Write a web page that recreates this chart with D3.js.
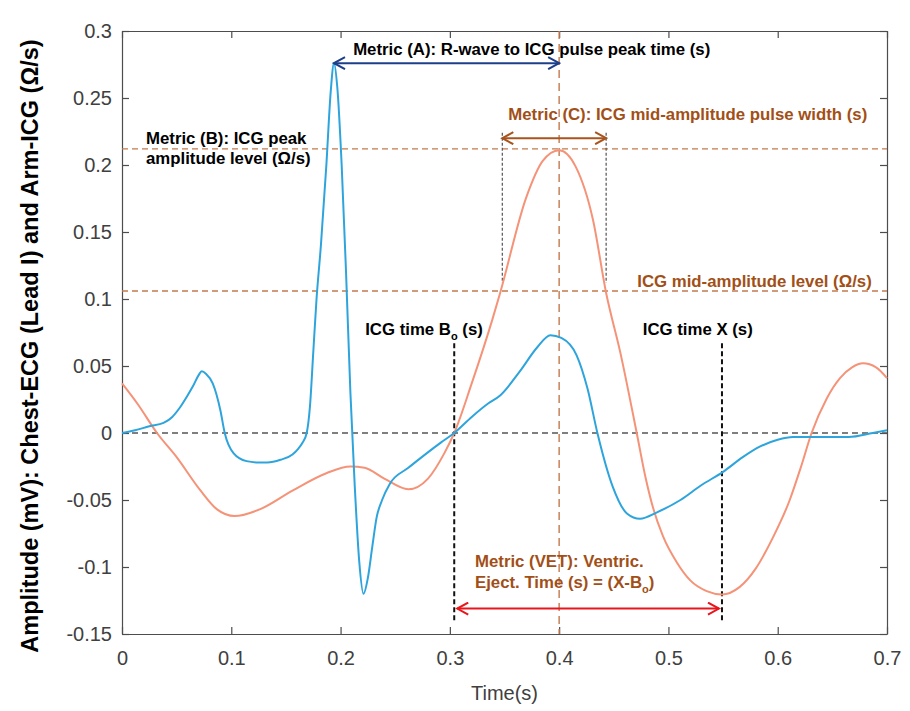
<!DOCTYPE html>
<html>
<head>
<meta charset="utf-8">
<script src="https://cdn.jsdelivr.net/npm/d3@7"></script>
<style>
  body { margin: 0; background: #fff; }
  svg text { font-family: "Liberation Sans", Arial, sans-serif; }
</style>
</head>
<body>
<svg id="chart"></svg>
<script>
// ECG (blue) samples: time (s) and amplitude (mV)
var ecgT = [0, 0.012, 0.025, 0.038, 0.046, 0.053, 0.060, 0.065, 0.070, 0.073, 0.077, 0.083, 0.090, 0.094, 0.102, 0.114, 0.125, 0.133, 0.145, 0.156, 0.161, 0.165, 0.169,
  0.172, 0.175, 0.178, 0.182, 0.187, 0.191, 0.194, 0.197, 0.201, 0.205, 0.209, 0.213, 0.217, 0.221, 0.225, 0.229, 0.233, 0.238, 0.245,
  0.262, 0.279, 0.292, 0.304, 0.320, 0.335, 0.346, 0.364, 0.380, 0.392, 0.402, 0.416, 0.426, 0.435, 0.449, 0.462, 0.474, 0.490, 0.511,
  0.530, 0.550, 0.568, 0.584, 0.600, 0.614, 0.640, 0.665, 0.687, 0.700];
var ecgV = [0, 0.002, 0.005, 0.0075, 0.012, 0.019, 0.028, 0.035, 0.043, 0.046, 0.044, 0.037, 0.017, 0.0, -0.015, -0.021, -0.022, -0.022, -0.020, -0.016, -0.012, -0.0075, 0.0,
  0.02, 0.06, 0.10, 0.14, 0.20, 0.255, 0.276, 0.258, 0.20, 0.12, 0.03, -0.04, -0.095, -0.12, -0.108, -0.085, -0.063, -0.050, -0.038,
  -0.026, -0.015, -0.007, 0.0, 0.012, 0.022, 0.028, 0.046, 0.064, 0.073, 0.071, 0.058, 0.033, 0.0, -0.040, -0.060, -0.064, -0.059, -0.050,
  -0.039, -0.029, -0.018, -0.010, -0.005, -0.003, -0.003, -0.003, 0.0, 0.002];

// ICG (orange) samples: time (s) and amplitude (ohm/s)
var icgT = [0, 0.014, 0.032, 0.050, 0.071, 0.087, 0.103, 0.126, 0.156, 0.187, 0.209, 0.222, 0.240, 0.262, 0.280, 0.295, 0.304, 0.320, 0.339, 0.346,
  0.370, 0.385, 0.400, 0.415, 0.431, 0.443, 0.456, 0.471, 0.479, 0.486, 0.495, 0.508, 0.520, 0.535, 0.549, 0.565, 0.580, 0.595, 0.611,
  0.621, 0.631, 0.645, 0.657, 0.668, 0.678, 0.690, 0.700];
var icgV = [0.037, 0.022, 0.0, -0.018, -0.042, -0.057, -0.062, -0.057, -0.043, -0.030, -0.025, -0.026, -0.034, -0.042, -0.034, -0.015, 0.0, 0.037, 0.085, 0.1045,
  0.176, 0.203, 0.211, 0.199, 0.159, 0.1045, 0.060, 0.0, -0.033, -0.056, -0.077, -0.097, -0.110, -0.118, -0.1205, -0.115, -0.101, -0.079, -0.050,
  -0.026, 0.0, 0.026, 0.041, 0.049, 0.052, 0.049, 0.041];

// tick values
var xTicks = [0, 0.1, 0.2, 0.3, 0.4, 0.5, 0.6, 0.7];
var yTicks = [-0.15, -0.1, -0.05, 0, 0.05, 0.1, 0.15, 0.2, 0.25, 0.3];

// annotation values
var tBo = 0.304, tX = 0.549, tEcgPeak = 0.194, tIcgPeak = 0.400;
var icgPeak = 0.212, icgMid = 0.106, tMidL = 0.348, tMidR = 0.443;

var W = 910, H = 711;
var margin = { top: 31, right: 23, bottom: 77, left: 122 };
var width = W - margin.left - margin.right;
var height = H - margin.top - margin.bottom;

var svg = d3.select("#chart").attr("width", W).attr("height", H);

// open chevron arrow heads
var defs = svg.append("defs");
function chevron(id, color) {
  defs.append("marker")
    .attr("id", id)
    .attr("viewBox", "-13 -7 15 14")
    .attr("refX", 0).attr("refY", 0)
    .attr("markerWidth", 15).attr("markerHeight", 14)
    .attr("markerUnits", "userSpaceOnUse")
    .attr("orient", "auto-start-reverse")
    .append("path")
    .attr("d", "M-11,-6 L0,0 L-11,6")
    .attr("fill", "none")
    .attr("stroke", color)
    .attr("stroke-width", 2);
}
chevron("arrA", "#1d3f8a");
chevron("arrC", "#a8541e");
chevron("arrV", "#e8161c");

var g = svg.append("g").attr("transform", "translate(" + margin.left + "," + margin.top + ")");

var x = d3.scaleLinear().domain([0, 0.7]).range([0, width]);
var y = d3.scaleLinear().domain([-0.15, 0.3]).range([height, 0]);

var axisColor = "#4d4d4d";
var textGray = "#404040";

// axes: box with inward ticks on all four sides
function styleAxis(sel) {
  sel.select(".domain").attr("stroke", axisColor).attr("stroke-width", 1.2);
  sel.selectAll(".tick line").attr("stroke", axisColor).attr("stroke-width", 1.2);
  sel.selectAll(".tick text").attr("fill", textGray).style("font-size", "20px");
}
var fmt = function(d) { return String(+d.toFixed(2)); };

g.append("g").attr("transform", "translate(0," + height + ")")
  .call(d3.axisBottom(x).tickValues(xTicks).tickFormat(fmt).tickSizeInner(-7).tickSizeOuter(0).tickPadding(17))
  .call(styleAxis);
g.append("g")
  .call(d3.axisLeft(y).tickValues(yTicks).tickFormat(fmt).tickSizeInner(-7).tickSizeOuter(0).tickPadding(10))
  .call(styleAxis);
g.append("g")
  .call(d3.axisTop(x).tickValues(xTicks).tickFormat("").tickSizeInner(-7).tickSizeOuter(0))
  .call(styleAxis);
g.append("g").attr("transform", "translate(" + width + ",0)")
  .call(d3.axisRight(y).tickValues(yTicks).tickFormat("").tickSizeInner(-7).tickSizeOuter(0))
  .call(styleAxis);

// zero line
g.append("line")
  .attr("x1", x(0)).attr("x2", x(0.7)).attr("y1", y(0)).attr("y2", y(0))
  .attr("stroke", "#555").attr("stroke-width", 1.6).attr("stroke-dasharray", "6,4");

// brown dashed guide lines
var brownDash = "#c27a4c";
g.append("line").attr("x1", x(0)).attr("x2", x(0.7)).attr("y1", y(icgPeak)).attr("y2", y(icgPeak))
  .attr("stroke", brownDash).attr("stroke-width", 1.4).attr("stroke-dasharray", "6,4");
g.append("line").attr("x1", x(0)).attr("x2", x(0.7)).attr("y1", y(icgMid)).attr("y2", y(icgMid))
  .attr("stroke", brownDash).attr("stroke-width", 1.4).attr("stroke-dasharray", "6,4");
g.append("line").attr("x1", x(tIcgPeak)).attr("x2", x(tIcgPeak)).attr("y1", y(0.3)).attr("y2", y(-0.15))
  .attr("stroke", brownDash).attr("stroke-width", 1.4).attr("stroke-dasharray", "8,5");

// short black dashed lines at the mid-amplitude crossings
[tMidL, tMidR].forEach(function(t) {
  g.append("line").attr("x1", x(t)).attr("x2", x(t)).attr("y1", y(0.224)).attr("y2", y(0.112))
    .attr("stroke", "#555").attr("stroke-width", 1.2).attr("stroke-dasharray", "3,2");
});

// Bo and X markers
[tBo, tX].forEach(function(t) {
  g.append("line").attr("x1", x(t)).attr("x2", x(t)).attr("y1", y(0.067)).attr("y2", y(-0.141))
    .attr("stroke", "#111").attr("stroke-width", 2).attr("stroke-dasharray", "5,3");
});

// curves
var line = d3.line()
  .x(function(d) { return x(d[0]); })
  .y(function(d) { return y(d[1]); })
  .curve(d3.curveMonotoneX);

g.append("path").datum(d3.zip(icgT, icgV))
  .attr("d", line).attr("fill", "none").attr("stroke", "#f59378").attr("stroke-width", 2);
g.append("path").datum(d3.zip(ecgT, ecgV))
  .attr("d", line).attr("fill", "none").attr("stroke", "#2ea4dc").attr("stroke-width", 2);

// double arrows
g.append("line").attr("x1", x(tEcgPeak)).attr("x2", x(tIcgPeak)).attr("y1", y(0.276)).attr("y2", y(0.276))
  .attr("stroke", "#1d3f8a").attr("stroke-width", 2)
  .attr("marker-start", "url(#arrA)").attr("marker-end", "url(#arrA)");
g.append("line").attr("x1", x(tMidL)).attr("x2", x(tMidR)).attr("y1", y(0.220)).attr("y2", y(0.220))
  .attr("stroke", "#a8541e").attr("stroke-width", 2)
  .attr("marker-start", "url(#arrC)").attr("marker-end", "url(#arrC)");
g.append("line").attr("x1", x(tBo) + 3).attr("x2", x(tX) - 3).attr("y1", y(-0.131)).attr("y2", y(-0.131))
  .attr("stroke", "#e8161c").attr("stroke-width", 2)
  .attr("marker-start", "url(#arrV)").attr("marker-end", "url(#arrV)");

// annotation text
var brown = "#a24f17";
var fs = "16.8px";
function label(px, py, txt, color) {
  return g.append("text").attr("x", px).attr("y", py)
    .attr("fill", color).style("font-size", fs).style("font-weight", "bold").text(txt);
}
label(x(0.2115), 24, "Metric (A): R-wave to ICG pulse peak time (s)", "#000");
label(x(0.3535), 89, "Metric (C): ICG mid-amplitude pulse width (s)", brown);
label(x(0.022), 113, "Metric (B): ICG peak", "#000");
label(x(0.022), 133, "amplitude level (\u03A9/s)", "#000");
label(x(0.4715), 256, "ICG mid-amplitude level (\u03A9/s)", brown);

var bo = label(x(0.2225), 304, "", "#000");
bo.append("tspan").text("ICG time B");
bo.append("tspan").attr("dy", 5).style("font-size", "11px").text("o");
bo.append("tspan").attr("dy", -5).text(" (s)");

label(x(0.4765), 304, "ICG time X (s)", "#000");

label(x(0.323), 536, "Metric (VET): Ventric.", brown);
var vet = label(x(0.323), 557, "", brown);
vet.append("tspan").text("Eject. Time (s) = (X-B");
vet.append("tspan").attr("dy", 5).style("font-size", "11px").text("o");
vet.append("tspan").attr("dy", -5).text(")");

// axis titles
svg.append("text")
  .attr("x", margin.left + width / 2).attr("y", 700)
  .attr("text-anchor", "middle").attr("fill", textGray)
  .style("font-size", "20px").text("Time(s)");

svg.append("text")
  .attr("transform", "translate(38,346) rotate(-90)")
  .attr("text-anchor", "middle").attr("fill", "#000")
  .style("font-size", "23.5px").style("font-weight", "bold")
  .text("Amplitude (mV): Chest-ECG (Lead I) and Arm-ICG (\u03A9/s)");
</script>
</body>
</html>
